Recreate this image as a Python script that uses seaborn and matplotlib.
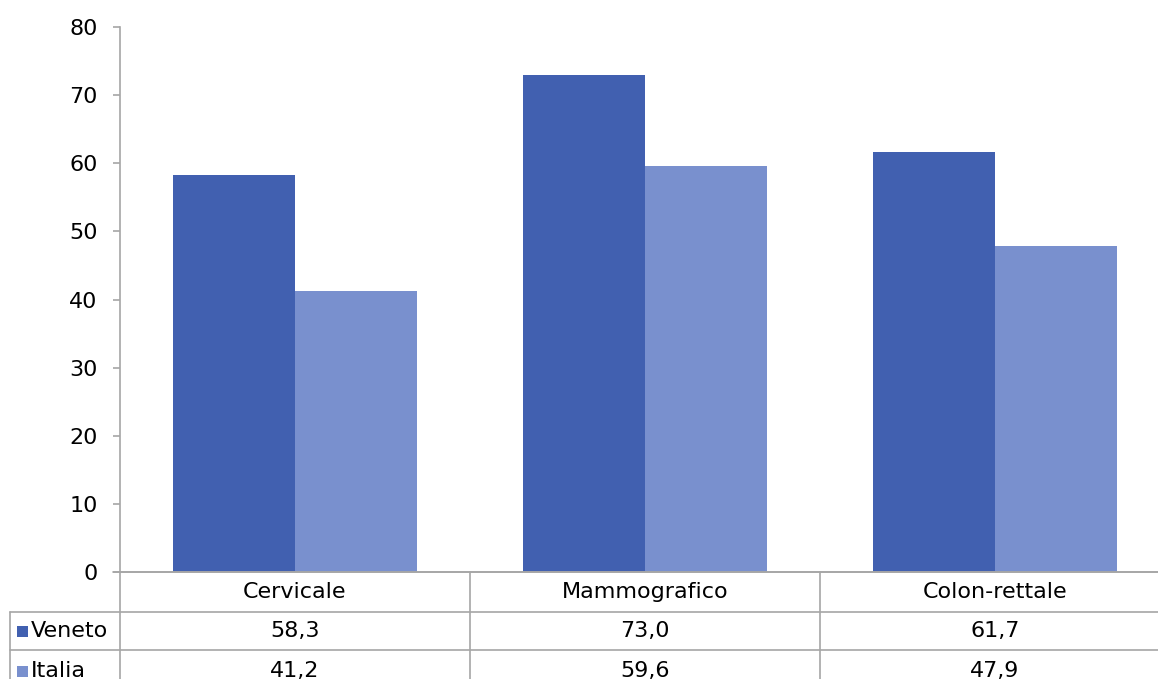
import pandas as pd
import seaborn as sns
import matplotlib.pyplot as plt

# Data
categories = ['Cervicale', 'Mammografico', 'Colon-rettale']
series = ['Veneto', 'Italia']
veneto = [58.3, 73.0, 61.7]
italia = [41.2, 59.6, 47.9]
colors = ['#4160B0', '#7990CE']
yticks = [0, 10, 20, 30, 40, 50, 60, 70, 80]

df = pd.DataFrame({
    'Categoria': categories * 2,
    'Serie': [series[0]] * 3 + [series[1]] * 3,
    'Valore': veneto + italia,
})

sns.set_style('white')
plt.rcParams['font.family'] = ['DejaVu Sans']
fs = 16

W, H = 1158, 679
fig = plt.figure(figsize=(W / 100, H / 100), dpi=100)
# axes spans x 120..1170 px, y 27..572 px
ax = fig.add_axes([120 / W, 1 - 572 / H, 1050 / W, 545 / H])

sns.barplot(data=df, x='Categoria', y='Valore', hue='Serie', palette=colors,
            saturation=1, width=0.697, linewidth=0, legend=False, ax=ax)

grey = '#A6A6A6'
ax.set_xlim(-0.5, 2.5)
ax.set_ylim(0, 80)
ax.set_yticks(yticks)
ax.set_yticklabels([str(t) for t in yticks], fontsize=fs, color='black')
ax.set_xticks([])
ax.set_xlabel('')
ax.set_ylabel('')
for s in ['top', 'right']:
    ax.spines[s].set_visible(False)
for s in ['left', 'bottom']:
    ax.spines[s].set_color(grey)
    ax.spines[s].set_linewidth(1.2)
ax.tick_params(axis='y', direction='out', length=5, width=1.2, color=grey,
               pad=11, left=True)

# Data table below the axes (axes-fraction units)
px_x = 1 / 1050
px_y = 1 / 545
row1 = -40 * px_y
row2 = -78 * px_y
bottom = -120 * px_y
left_edge = -110 * px_x
tick_left = -7 * px_x
kw = dict(color=grey, lw=1.2, transform=ax.transAxes, clip_on=False)

ax.plot([tick_left, 1], [0, 0], **kw)
ax.plot([left_edge, 1], [row1, row1], **kw)
ax.plot([left_edge, 1], [row2, row2], **kw)
ax.plot([left_edge, left_edge], [row1, bottom], **kw)
for i in range(len(categories)):
    x = i / len(categories)
    ax.plot([x, x], [0, bottom], **kw)

rows = [veneto, italia]
centers = [(0 + row1) / 2, (row1 + row2) / 2, (row2 + bottom) / 2]
for i, cat in enumerate(categories):
    xc = (i + 0.5) / len(categories)
    ax.text(xc, centers[0], cat, ha='center', va='center', fontsize=fs,
            color='black', transform=ax.transAxes)
    for r, vals in enumerate(rows):
        ax.text(xc, centers[r + 1], f'{vals[i]:.1f}'.replace('.', ','),
                ha='center', va='center', fontsize=fs, color='black',
                transform=ax.transAxes)

for r, name in enumerate(series):
    yc = centers[r + 1]
    ax.add_patch(plt.Rectangle((-103 * px_x, yc - 6 * px_y), 11 * px_x, 11 * px_y,
                               facecolor=colors[r], edgecolor='none',
                               transform=ax.transAxes, clip_on=False))
    ax.text(-89 * px_x, yc, name, ha='left', va='center', fontsize=fs,
            color='black', transform=ax.transAxes)

fig.savefig('out.png', dpi=100)
